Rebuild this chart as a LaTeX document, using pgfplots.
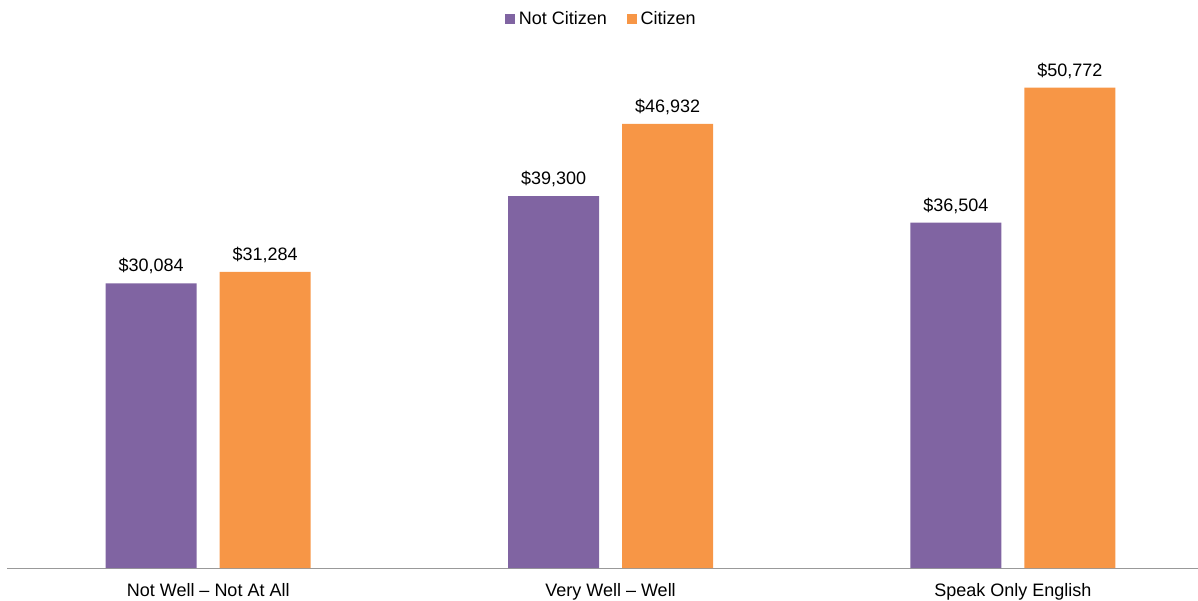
\documentclass[border=0pt]{standalone}
\usepackage{pgfplots}
\pgfplotsset{compat=1.18}
\usepackage{fontspec}
\setmainfont{Liberation Sans}
\definecolor{cpurple}{HTML}{8064A2}
\definecolor{corange}{HTML}{F79646}
\begin{document}
\begin{tikzpicture}
\begin{axis}[
  at={(3.5pt,16pt)}, anchor=south west,
  scale only axis, width=595.5pt, height=264pt,
  xmin=-0.5, xmax=2.46, ymin=0, ymax=55800,
  ybar=0pt, bar width=0.226,
  hide y axis,
  axis x line*=bottom,
  x axis line style={draw=gray!80, -},
  xtick={0,1,2},
  xticklabels={Not Well -- Not At All, Very Well -- Well, Speak Only English},
  major tick length=0pt,
  xticklabel style={font=\fontsize{9}{11}\selectfont, yshift=-4pt},
  nodes near coords={\$\pgfmathprintnumber[assume math mode=true,1000 sep={,}]{\pgfplotspointmeta}},
  nodes near coords style={font=\fontsize{9}{11}\selectfont, text=black, yshift=1pt},
  legend style={at={(axis description cs:0.5,1)}, anchor=center, yshift=10.5pt, draw=none, legend columns=2, font=\fontsize{9}{11}\selectfont, /tikz/every even column/.append style={column sep=8pt}},
  legend image code/.code={\fill[#1] (0pt,-2.4pt) rectangle (4.8pt,2.4pt);},
]
\addplot[fill=cpurple, draw=none, bar shift=-0.1416] coordinates {(0,30084) (1,39300) (2,36504)};
\addplot[fill=corange, draw=none, bar shift=0.1416] coordinates {(0,31284) (1,46932) (2,50772)};
\legend{Not Citizen, Citizen}
\end{axis}
\pgfresetboundingbox
\path (0,0) rectangle (599pt,300pt);
\end{tikzpicture}
\end{document}
